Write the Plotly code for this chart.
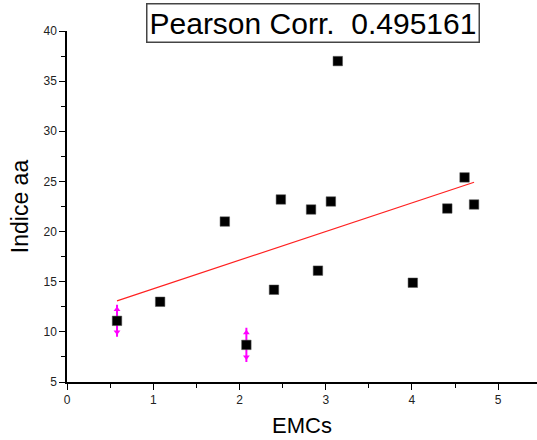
import numpy as np
import plotly.graph_objects as go

emcs = [0.58, 1.08, 1.83, 2.08, 2.40, 2.48, 2.83, 2.91, 3.06, 3.14, 4.01, 4.41, 4.61, 4.72]
indice_aa = [11.1, 13.0, 21.0, 8.7, 14.2, 23.2, 22.2, 16.1, 23.0, 37.0, 14.9, 22.3, 25.4, 22.7]
err_x = [0.58, 2.08]
err_y = [11.1, 8.7]
err_val = [1.5, 1.6]
pearson_label = "Pearson Corr.  0.495161"

slope, intercept = np.polyfit(emcs, indice_aa, 1)
fit_x = [min(emcs), max(emcs)]
fit_y = [slope * v + intercept for v in fit_x]

fig = go.Figure()
fig.add_trace(go.Scatter(x=fit_x, y=fit_y, mode="lines",
                         line=dict(color="#ff2020", width=1.2), hoverinfo="skip"))
fig.add_trace(go.Scatter(x=err_x, y=err_y, mode="markers",
                         marker=dict(size=1, color="rgba(0,0,0,0)"),
                         error_y=dict(type="data", array=err_val, color="#ff00ff",
                                      thickness=2, width=1)))
fig.add_trace(go.Scatter(x=err_x, y=[a + b * 0.75 for a, b in zip(err_y, err_val)],
                         mode="markers", marker=dict(symbol="triangle-up", size=6, color="#ff00ff")))
fig.add_trace(go.Scatter(x=err_x, y=[a - b * 0.75 for a, b in zip(err_y, err_val)],
                         mode="markers", marker=dict(symbol="triangle-down", size=6, color="#ff00ff")))
fig.add_trace(go.Scatter(x=emcs, y=indice_aa, mode="markers",
                         marker=dict(symbol="square", size=9.5, color="black",
                                     line=dict(color="#555", width=0.5))))

axis_font = dict(family="Liberation Sans, Arial, sans-serif", size=12, color="#222")
fig.update_layout(
    width=537, height=440,
    margin=dict(l=67, r=0, t=31, b=58),
    paper_bgcolor="white", plot_bgcolor="white",
    showlegend=False,
    font=dict(family="Liberation Sans, Arial, sans-serif", color="black"),
    xaxis=dict(range=[0, 5.45], tickmode="linear", tick0=0, dtick=1, automargin=False,
               ticks="outside", ticklen=6, tickwidth=1.2, tickcolor="black",
               minor=dict(ticks="outside", ticklen=4, tickwidth=1.2, tickcolor="black", dtick=0.5),
               showline=True, linecolor="black", linewidth=1.5, showgrid=False, zeroline=False,
               tickfont=axis_font,
               title=dict(text="EMCs", font=dict(size=22, color="black"), standoff=11)),
    yaxis=dict(range=[5, 40], tickmode="linear", tick0=5, dtick=5, automargin=False,
               ticks="outside", ticklen=6, tickwidth=1.2, tickcolor="black",
               minor=dict(ticks="outside", ticklen=4, tickwidth=1.2, tickcolor="black", dtick=2.5),
               showline=True, linecolor="black", linewidth=1.5, showgrid=False, zeroline=False,
               tickfont=axis_font,
               title=dict(text="Indice aa", font=dict(size=23, color="black"), standoff=8)),
    annotations=[dict(text=pearson_label, xref="paper", yref="paper",
                      x=0.5244, y=1.0214, xanchor="center", yanchor="middle",
                      showarrow=False, font=dict(size=30, color="black"),
                      bordercolor="#444", borderwidth=1.5, borderpad=2, bgcolor="white")],
)
fig.write_html("out.html", config={"displayModeBar": False},
               post_script="document.body.style.margin='0';document.body.style.overflow='hidden';")
